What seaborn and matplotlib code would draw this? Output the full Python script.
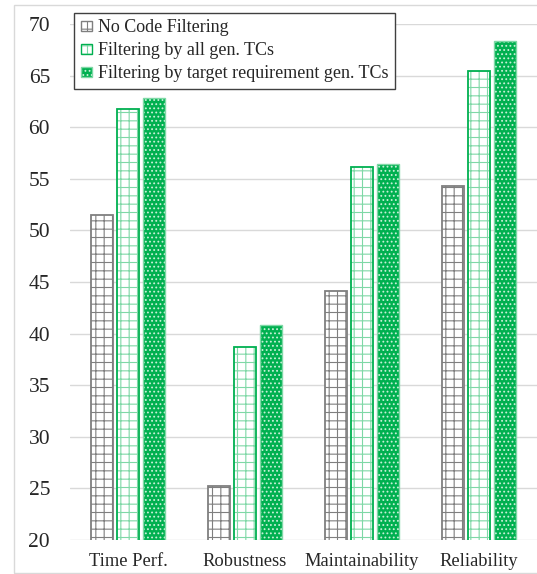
import numpy as np
import pandas as pd
import matplotlib
matplotlib.use("Agg")
import matplotlib.pyplot as plt
from matplotlib.patches import Patch, Rectangle
import seaborn as sns

categories = ["Time Perf.", "Robustness", "Maintainability", "Reliability"]
series_names = ["No Code Filtering", "Filtering by all gen. TCs",
                "Filtering by target requirement gen. TCs"]
no_filter = [51.5, 25.2, 44.1, 54.3]
filter_all = [61.8, 38.7, 56.1, 65.4]
filter_target = [62.8, 40.8, 56.4, 68.4]
y_ticks = [20, 25, 30, 35, 40, 45, 50, 55, 60, 65, 70]

rows = []
for name, vals in zip(series_names, [no_filter, filter_all, filter_target]):
    for c, v in zip(categories, vals):
        rows.append({"category": c, "series": name, "value": v})
df = pd.DataFrame(rows)

sns.set_theme(style="white")
plt.rcParams["font.family"] = "serif"
plt.rcParams["font.serif"] = ["Liberation Serif", "Times New Roman", "DejaVu Serif"]
plt.rcParams["hatch.linewidth"] = 0.8

GREEN = "#00b050"
LIGHT_GREEN = "#7fd8a6"
GRAY = "#7f7f7f"

fig = plt.figure(figsize=(5.37, 5.74), dpi=100)
ax = fig.add_axes([69.5 / 537, 1 - 540 / 574, 468 / 537, (540 - 24) / 574])

palette = {series_names[0]: "white", series_names[1]: "white", series_names[2]: GREEN}
sns.barplot(data=df, x="category", y="value", hue="series", order=categories,
            hue_order=series_names, palette=palette, width=0.667, gap=0.19,
            saturation=1, ax=ax, legend=False, zorder=3)

styles = [
    dict(face="white", edge=GRAY, hatch="++", hcolor=GRAY, lw=1.3),
    dict(face="white", edge=GREEN, hatch="++", hcolor=LIGHT_GREEN, lw=1.3),
    dict(face=GREEN, edge=LIGHT_GREEN, hatch="....", hcolor="#c8f0d8", lw=1.0),
]
for cont, st in zip(ax.containers, styles):
    for p in cont:
        p.set_facecolor(st["face"])
        p.set_edgecolor(st["edge"])
        p.set_linewidth(st["lw"])
        p.set_hatch(st["hatch"])
        p._hatch_color = matplotlib.colors.to_rgba(st["hcolor"])

ax.set_ylim(20, 70)
ax.set_xlim(-0.5, 3.5)
ax.set_yticks(y_ticks)
ax.set_yticklabels([str(t) for t in y_ticks], fontsize=15.5)
ax.tick_params(axis="x", labelsize=13.3, pad=9, length=0)
ax.tick_params(axis="y", pad=14, length=0)
ax.grid(axis="y", color="#d9d9d9", linewidth=1.0, zorder=0)
ax.set_axisbelow(True)
for s in ax.spines.values():
    s.set_visible(False)
ax.set_xlabel("")
ax.set_ylabel("")

handles = []
for st in styles:
    h = Patch(facecolor=st["face"], edgecolor=st["edge"], hatch=st["hatch"],
              linewidth=1.0)
    h._hatch_color = matplotlib.colors.to_rgba(st["hcolor"])
    handles.append(h)
leg = fig.legend(handles, series_names, loc="upper left",
                 bbox_to_anchor=(74 / 537, 1 - 12.5 / 574),
                 bbox_transform=fig.transFigure, borderaxespad=0,
                 fontsize=13, handlelength=0.6, handleheight=0.45,
                 handletextpad=0.35, labelspacing=0.33, borderpad=0.38,
                 fancybox=False, framealpha=1, edgecolor="#404040")
leg.get_frame().set_linewidth(1.0)
leg.set_zorder(10)

fig.patches.append(Rectangle((14 / 537, 1 - 573 / 574), 1.2, (573 - 4.5) / 574,
                             transform=fig.transFigure, fill=False,
                             edgecolor="#d9d9d9", linewidth=1.0, zorder=-1))

fig.savefig("out.png", dpi=100)
